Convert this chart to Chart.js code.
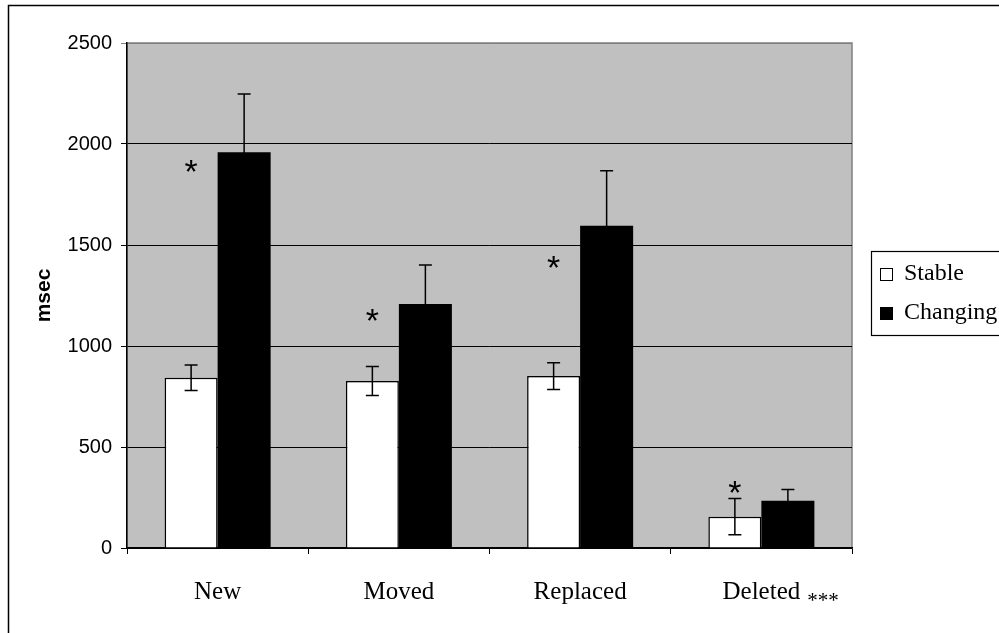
<!DOCTYPE html>
<html>
<head>
<meta charset="utf-8">
<script src="https://cdn.jsdelivr.net/npm/chart.js@4.4.1/dist/chart.umd.min.js"></script>
<style>
  html, body { margin: 0; padding: 0; background: #fff; }
  #wrap { position: relative; width: 999px; height: 633px; overflow: hidden; }
</style>
</head>
<body>
<div id="wrap"><canvas id="chart" width="999" height="633"></canvas></div>
<script>
// =====================
// データ
// =====================
const categories = ["New", "Moved", "Replaced", "Deleted"];
const stableMeans = [843, 827, 851, 155];
const stableErr = [63, 72, 66, 90];
const changingMeans = [1959, 1208, 1595, 234];
const changingErr = [288, 193, 273, 56];
// asterisk heights (msec) above each pair
const starValues = [1905, 1168, 1431, 317];
const yTicks = [0, 500, 1000, 1500, 2000, 2500];

const SERIF = "'Liberation Serif', 'Times New Roman', serif";
const SANS = "'Liberation Sans', Arial, sans-serif";

// =====================
// プラグイン
// =====================

/** 背景・外枠・グレーのプロット領域 */
const backdrop = {
  id: "backdrop",
  beforeDraw(chart) {
    const { ctx, chartArea: a } = chart;
    ctx.save();
    ctx.fillStyle = "#fff";
    ctx.fillRect(0, 0, chart.width, chart.height);
    ctx.strokeStyle = "#000";
    ctx.lineWidth = 1.5;
    ctx.strokeRect(8.5, 5.5, 1000, 700);
    ctx.fillStyle = "#c0c0c0";
    ctx.fillRect(a.left, a.top, a.right - a.left, a.bottom - a.top);
    ctx.strokeStyle = "#808080";
    ctx.lineWidth = 1.5;
    ctx.strokeRect(a.left, a.top, a.right - a.left, a.bottom - a.top);
    ctx.restore();
  }
};

/** エラーバーとアスタリスク */
const errorBars = {
  id: "errorBars",
  afterDatasetsDraw(chart) {
    const { ctx } = chart;
    const y = chart.scales.y;
    const errs = [stableErr, changingErr];
    ctx.save();
    ctx.strokeStyle = "#000";
    ctx.lineWidth = 1.5;
    chart.data.datasets.forEach((ds, di) => {
      const meta = chart.getDatasetMeta(di);
      meta.data.forEach((bar, i) => {
        const v = ds.data[i];
        const top = y.getPixelForValue(v + errs[di][i]);
        const bot = y.getPixelForValue(v - errs[di][i]);
        ctx.beginPath();
        ctx.moveTo(bar.x, top);
        ctx.lineTo(bar.x, bot);
        ctx.moveTo(bar.x - 6.5, top);
        ctx.lineTo(bar.x + 6.5, top);
        ctx.moveTo(bar.x - 6.5, bot);
        ctx.lineTo(bar.x + 6.5, bot);
        ctx.stroke();
      });
    });

    // アスタリスク
    const stableMeta = chart.getDatasetMeta(0);
    const size = 34;
    ctx.fillStyle = "#000";
    ctx.font = size + "px " + SANS;
    ctx.textAlign = "center";
    ctx.textBaseline = "alphabetic";
    starValues.forEach((v, i) => {
      const px = stableMeta.data[i].x;
      ctx.fillText("*", px, y.getPixelForValue(v) + size * 0.58);
    });
    ctx.restore();
  }
};

/** 凡例ボックスと "Deleted ***" の添字 */
const extras = {
  id: "extras",
  afterDraw(chart) {
    const { ctx } = chart;
    ctx.save();
    // 凡例
    ctx.strokeStyle = "#000";
    ctx.lineWidth = 1.2;
    ctx.fillStyle = "#fff";
    ctx.fillRect(871, 251, 140, 84);
    ctx.strokeRect(871.5, 251.5, 140, 84);
    const rows = [274, 313];
    chart.data.datasets.forEach((ds, i) => {
      const cy = rows[i];
      ctx.fillStyle = ds.backgroundColor;
      ctx.fillRect(880, cy - 6, 13, 13);
      ctx.strokeStyle = "#000";
      ctx.lineWidth = 1;
      ctx.strokeRect(880.5, cy - 5.5, 12, 12);
      ctx.fillStyle = "#000";
      ctx.font = "24px " + SERIF;
      ctx.textAlign = "left";
      ctx.textBaseline = "middle";
      ctx.fillText(ds.label, 904, cy);
    });
    // Deleted ***
    const x = chart.scales.x;
    const last = categories.length - 1;
    ctx.font = "25px " + SERIF;
    const w = ctx.measureText(categories[last]).width;
    const sx = x.getPixelForValue(last) + w / 2 + 7;
    ctx.font = "21px " + SERIF;
    ctx.textAlign = "left";
    ctx.textBaseline = "alphabetic";
    ctx.fillStyle = "#000";
    ctx.fillText("***", sx, 607);
    ctx.restore();
  }
};

// =====================
// チャート
// =====================
new Chart(document.getElementById("chart"), {
  type: "bar",
  data: {
    labels: categories,
    datasets: [
      {
        label: "Stable",
        data: stableMeans,
        backgroundColor: "#ffffff",
        borderColor: "#000",
        borderWidth: 1.5,
        categoryPercentage: 0.585,
        barPercentage: 1.0
      },
      {
        label: "Changing",
        data: changingMeans,
        backgroundColor: "#000000",
        borderColor: "#000",
        borderWidth: 0,
        categoryPercentage: 0.585,
        barPercentage: 1.0
      }
    ]
  },
  options: {
    responsive: false,
    animation: false,
    devicePixelRatio: 1,
    layout: { padding: { left: 0, top: 43, right: 147, bottom: 0 } },
    plugins: {
      legend: { display: false },
      tooltip: { enabled: false }
    },
    scales: {
      x: {
        offset: true,
        grid: {
          offset: true,
          drawOnChartArea: false,
          color: "#000",
          tickLength: 6
        },
        border: { color: "#000", width: 1.5 },
        ticks: {
          color: "#000",
          font: { family: SERIF, size: 25 },
          padding: 23,
          maxRotation: 0
        },
        afterFit(scale) { scale.height = 85; }
      },
      y: {
        min: 0,
        max: 2500,
        afterBuildTicks(scale) { scale.ticks = yTicks.map(v => ({ value: v })); },
        grid: {
          color: ctx => (ctx.tick && ctx.tick.value === 2500 ? "#808080" : "#000"),
          lineWidth: 1,
          tickLength: 6
        },
        border: { color: "#000", width: 1.5 },
        ticks: {
          color: "#000",
          font: { family: SANS, size: 20 },
          padding: 9,
          callback: v => String(v)
        },
        title: {
          display: true,
          text: "msec",
          color: "#000",
          font: { family: SANS, size: 21, weight: "bold" },
          padding: { top: 32, bottom: 0 }
        },
        afterFit(scale) { scale.width = 127; }
      }
    }
  },
  plugins: [backdrop, errorBars, extras]
});
</script>
</body>
</html>
